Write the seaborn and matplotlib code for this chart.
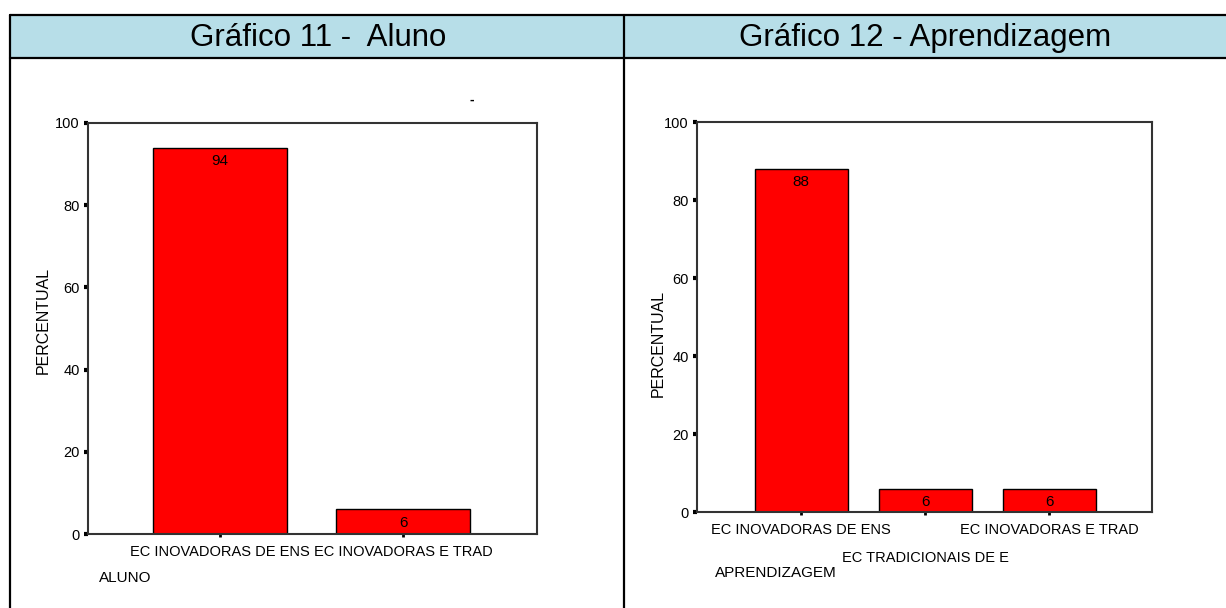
import matplotlib
matplotlib.use("Agg")
import matplotlib.pyplot as plt
from matplotlib.patches import Rectangle
from matplotlib.lines import Line2D
import pandas as pd
import seaborn as sns

# Data
aluno_cats = ["EC INOVADORAS DE ENS", "EC INOVADORAS E TRAD"]
aluno_vals = [94, 6]
aprend_cats = ["EC INOVADORAS DE ENS", "EC TRADICIONAIS DE E", "EC INOVADORAS E TRAD"]
aprend_vals = [88, 6, 6]
yticks = [0, 20, 40, 60, 80, 100]

sns.set_style("white")
plt.rcParams["font.family"] = ["Liberation Sans", "DejaVu Sans"]
plt.rcParams["text.color"] = "black"
plt.rcParams["xtick.color"] = "black"
plt.rcParams["ytick.color"] = "black"

W, H = 1226, 608
fig = plt.figure(figsize=(W / 100, H / 100), dpi=100)


def fx(px):
    return px / W


def fy(py):
    return 1 - py / H


# Table frame with light-blue header row
fig.patches.append(Rectangle((fx(10), fy(58)), fx(1226) - fx(10), fy(15) - fy(58),
                             transform=fig.transFigure, facecolor="#b7dee8",
                             edgecolor="none", zorder=0))
for (x0, y0, x1, y1) in [(10, 15, 1226, 15), (10, 58, 1226, 58),
                         (10, 15, 10, 608), (624, 15, 624, 608)]:
    fig.add_artist(Line2D([fx(x0), fx(x1)], [fy(y0), fy(y1)], transform=fig.transFigure,
                          color="black", lw=1.6, zorder=1))

fig.text(fx(318), fy(38), "Gráfico 11 -  Aluno", ha="center", va="center", fontsize=22.5)
fig.text(fx(925), fy(38), "Gráfico 12 - Aprendizagem", ha="center", va="center", fontsize=22.5)
fig.text(fx(472), fy(100), "-", ha="center", va="center", fontsize=10, fontweight="bold")


def bar_panel(rect, cats, vals, width, xlim):
    left, top, right, bottom = rect
    ax = fig.add_axes([fx(left), fy(bottom), fx(right) - fx(left), fy(top) - fy(bottom)])
    df = pd.DataFrame({"cat": cats, "val": vals})
    sns.barplot(data=df, x="cat", y="val", ax=ax, color="#ff0000", saturation=1,
                width=width, edgecolor="black", linewidth=1.0)
    ax.set_xlim(*xlim)
    ax.set_ylim(0, 100)
    ax.set_yticks(yticks)
    ax.set_yticklabels([str(t) for t in yticks], fontsize=10.5)
    ax.tick_params(axis="y", left=True, direction="out", length=3, width=3,
                   color="black", pad=3)
    ax.tick_params(axis="x", bottom=True, direction="out", length=2, width=2,
                   color="black", pad=6)
    for s in ax.spines.values():
        s.set_visible(True)
        s.set_color("#333333")
        s.set_linewidth(1.5)
    ax.set_xlabel("")
    ax.set_ylabel("")
    for i, v in enumerate(vals):
        ax.annotate(str(v), (i, v), xytext=(0, -4.5), textcoords="offset points",
                    ha="center", va="top", fontsize=11, color="black")
    return ax


# Gráfico 11
ax1 = bar_panel((88, 123, 537, 534), aluno_cats, aluno_vals, 0.73, (-0.72, 1.73))
ax1.set_xticks(range(len(aluno_cats)))
ax1.set_xticklabels(aluno_cats, fontsize=10.5)
fig.text(fx(43), fy(320), "PERCENTUAL", rotation=90, ha="center", va="center", fontsize=11.5)
fig.text(fx(99), fy(578), "ALUNO", ha="left", va="center", fontsize=11)

# Gráfico 12 (middle category label staggered below the others)
ax2 = bar_panel((697, 122, 1152, 512), aprend_cats, aprend_vals, 0.75, (-0.84, 2.83))
ax2.set_xticks(range(len(aprend_cats)))
ax2.set_xticklabels([c if i != 1 else "" for i, c in enumerate(aprend_cats)], fontsize=10.5)
ax2.annotate(aprend_cats[1], (1, 0), xycoords=("data", "axes fraction"),
             xytext=(0, -33), textcoords="offset points", ha="center", va="center",
             fontsize=10.5)
fig.text(fx(658), fy(343), "PERCENTUAL", rotation=90, ha="center", va="center", fontsize=11.5)
fig.text(fx(715), fy(573), "APRENDIZAGEM", ha="left", va="center", fontsize=11)

fig.savefig("out.png", dpi=100)
